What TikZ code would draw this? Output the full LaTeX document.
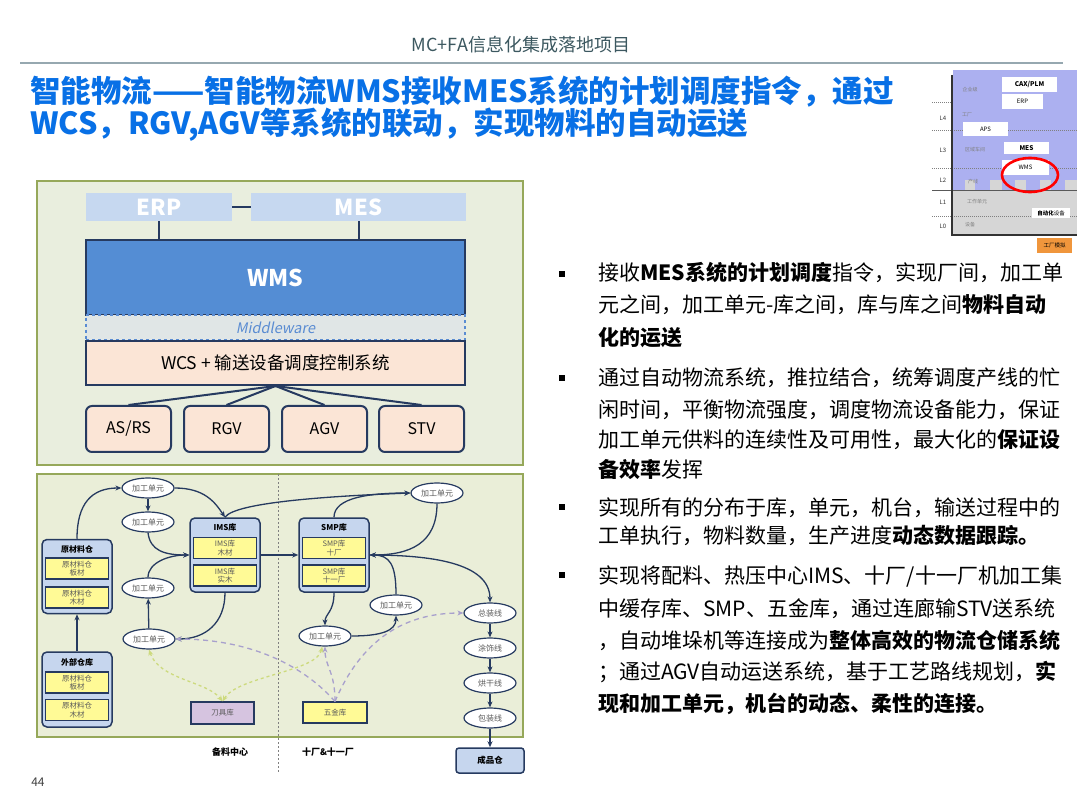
\documentclass[tikz,border=0pt]{standalone}
\usepackage{fontspec}
\setmainfont{Noto Sans CJK SC}
\newfontfamily\mwfont{Noto Sans CJK SC}[FakeSlant=0.2]
\usetikzlibrary{shapes.geometric,arrows.meta}
\definecolor{navy}{RGB}{38,58,96}
\definecolor{frameg}{RGB}{150,168,90}
\definecolor{bgg}{RGB}{233,238,222}
\definecolor{bgg2}{RGB}{234,238,216}
\definecolor{erpb}{RGB}{198,216,240}
\definecolor{wmsb}{RGB}{84,141,212}
\definecolor{peach}{RGB}{251,229,214}
\definecolor{mwfill}{RGB}{224,230,230}
\definecolor{mwblue}{RGB}{90,140,210}
\definecolor{contb}{RGB}{198,214,238}
\definecolor{yel}{RGB}{255,250,150}
\definecolor{purp}{RGB}{214,196,224}
\definecolor{dpurple}{RGB}{168,160,205}
\definecolor{dgreen}{RGB}{205,218,125}
\definecolor{txtgray}{RGB}{90,90,90}
\definecolor{titleblue}{RGB}{8,112,230}
\definecolor{headc}{RGB}{60,88,96}
\definecolor{rulec}{RGB}{150,168,176}
\definecolor{lav}{RGB}{172,176,240}
\definecolor{thgray}{RGB}{214,214,214}
\definecolor{orng}{RGB}{240,150,60}
\begin{document}
\begin{tikzpicture}[x=1pt,y=-1pt,
  frame/.style={draw=frameg, line width=2pt},
  link/.style={draw=navy, line width=2pt},
  topbox/.style={fill=erpb, inner sep=0pt, text=white, font=\fontsize{22}{24}\selectfont\bfseries},
  devbox/.style={draw=navy, line width=2pt, fill=peach, rounded corners=6pt, minimum width=85pt, minimum height=46pt, inner sep=0pt, font=\fontsize{16}{18}\selectfont},
  ell/.style={ellipse, draw=navy, line width=1.2pt, fill=white, minimum width=52pt, minimum height=20pt, inner sep=0pt, font=\fontsize{8}{9}\selectfont, text=txtgray},
  cont/.style={draw=navy, line width=1.5pt, fill=contb, rounded corners=5pt, minimum width=70pt, minimum height=74pt, inner sep=0pt},
  inbox/.style={draw=navy, line width=1.2pt, fill=yel, minimum width=63pt, minimum height=21pt, inner sep=0pt, align=center, font=\fontsize{7.5}{8.5}\selectfont, text=txtgray},
  ctitle/.style={font=\fontsize{8}{9}\selectfont\bfseries, inner sep=0pt},
  arr/.style={draw=navy, line width=1.3pt, -{Stealth[length=6pt,width=5pt]}},
  darr/.style={draw=dpurple, line width=1.3pt, dash pattern=on 5pt off 4pt, -{Stealth[length=6pt,width=5pt]}},
  garr/.style={draw=dgreen, line width=1.3pt, dash pattern=on 3pt off 3pt, {Stealth[length=6pt,width=5pt]}-{Stealth[length=6pt,width=5pt]}},
  rt/.style={anchor=base west, inner sep=0pt, font=\fontsize{21}{25}\selectfont},
  bul/.style={fill=black, minimum size=6pt, inner sep=0pt},
  thbox/.style={fill=white, inner sep=0pt, font=\fontsize{6}{7}\selectfont},
  thlab/.style={inner sep=0pt, font=\fontsize{5}{6}\selectfont, text=gray},
  lv/.style={inner sep=0pt, font=\fontsize{6}{7}\selectfont, text=black!80}
]
\useasboundingbox (0,0) rectangle (1080,810);
\fill[white] (0,0) rectangle (1080,810);

% header
\node[font=\fontsize{18}{20}\selectfont, text=headc] (head) at (521,45) {MC+FA信息化集成落地项目};
\draw[rulec, line width=2pt] (20,63) -- (1063,63);
\node[anchor=base west, inner sep=0pt, font=\fontsize{30.5}{33}\selectfont\bfseries, text=titleblue] (t1) at (30,103) {智能物流——智能物流WMS接收MES系统的计划调度指令，通过};
\node[anchor=base west, inner sep=0pt, font=\fontsize{30.5}{33}\selectfont\bfseries, text=titleblue] (t2) at (30,135) {WCS，RGV,AGV等系统的联动，实现物料的自动运送};

% ===== upper diagram =====
\filldraw[frame, fill=bgg] (37,181) rectangle (523,465);
\node[topbox, minimum width=146pt, minimum height=28pt] (erp) at (159,207) {ERP};
\node[topbox, minimum width=215pt, minimum height=28pt] (mes) at (358.5,207) {MES};
\draw[link] (erp.east) -- (mes.west);
\node[draw=navy, line width=2pt, fill=wmsb, minimum width=379pt, minimum height=75pt, inner sep=0pt, text=white, font=\fontsize{23}{25}\selectfont\bfseries] (wms) at (275.5,277.5) {WMS};
\draw[link] (erp.south) -- (erp.south |- wms.north);
\draw[link] (mes.south) -- (mes.south |- wms.north);
\node[draw=mwblue, dashed, line width=1.5pt, fill=mwfill, minimum width=379pt, minimum height=25pt, inner sep=0pt, text=mwblue, font=\fontsize{14.5}{16}\mwfont] (mw) at (275.5,327.5) {Middleware};
\node[draw=navy, line width=2pt, fill=peach, minimum width=379pt, minimum height=44pt, inner sep=0pt, font=\fontsize{17.5}{20}\selectfont] (wcs) at (275.5,363) {WCS + 输送设备调度控制系统};
\node[devbox] (asrs) at (128.5,429) {AS/RS};
\node[devbox] (rgv) at (226.5,429) {RGV};
\node[devbox] (agv) at (324.5,429) {AGV};
\node[devbox] (stv) at (421.5,429) {STV};
\draw[link] (wcs.south) -- (asrs.north);
\draw[link] (wcs.south) -- (rgv.north);
\draw[link] (wcs.south) -- (agv.north);
\draw[link] (wcs.south) -- (stv.north);

% ===== lower diagram =====
\filldraw[frame, fill=bgg2] (37,474) rectangle (523,737);
\draw[gray, line width=1pt, dash pattern=on 2pt off 2pt] (278,474) -- (278,772);

% containers
\node[cont] (ycl) at (77,576.5) {};
\node[ctitle] (yclt) at (77,549) {原材料仓};
\node[inbox] (ycl1) at (77,568.5) {原材料仓\\板材};
\node[inbox] (ycl2) at (77,597.5) {原材料仓\\木材};

\node[cont] (ims) at (225,555) {};
\node[ctitle] (imst) at (225,527) {IMS库};
\node[inbox] (ims1) at (225,548) {IMS库\\木材};
\node[inbox] (ims2) at (225,575.5) {IMS库\\实木};

\node[cont] (smp) at (334,555) {};
\node[ctitle] (smpt) at (334,527) {SMP库};
\node[inbox] (smp1) at (334,548) {SMP库\\十厂};
\node[inbox] (smp2) at (334,575.5) {SMP库\\十一厂};

\node[cont, minimum height=75pt] (wb) at (77,689.5) {};
\node[ctitle] (wbt) at (77,662) {外部仓库};
\node[inbox] (wb1) at (77,682.5) {原材料仓\\板材};
\node[inbox] (wb2) at (77,710) {原材料仓\\木材};

\node[inbox, fill=purp, minimum height=22pt] (dj) at (222.5,713) {刀具库};
\node[inbox, minimum width=64pt] (wj) at (335,712.5) {五金库};

% ellipses
\node[ell] (e1) at (148,488) {加工单元};
\node[ell] (e2) at (148,522) {加工单元};
\node[ell] (e3) at (148,588) {加工单元};
\node[ell] (e4) at (149,639) {加工单元};
\node[ell] (e5) at (437,493) {加工单元};
\node[ell] (e6) at (396,605) {加工单元};
\node[ell] (e7) at (325,636) {加工单元};
\node[ell] (zz) at (490,613) {总装线};
\node[ell] (ts) at (490,648) {涂饰线};
\node[ell] (hg) at (490,683) {烘干线};
\node[ell] (bz) at (490,718) {包装线};
\node[draw=navy, line width=1.5pt, fill=contb, rounded corners=3pt, minimum width=68pt, minimum height=25pt, inner sep=0pt, font=\fontsize{8.5}{9}\selectfont\bfseries] (cp) at (490,760.5) {成品仓};

\node[inner sep=0pt, font=\fontsize{9}{10}\selectfont\bfseries] (blzx) at (230,752) {备料中心};
\node[inner sep=0pt, font=\fontsize{9}{10}\selectfont\bfseries] (sc) at (328,752) {十厂\&十一厂};

% solid arrows
\draw[arr] (ycl.north) .. controls +(0,-35) and +(-30,0) .. (e1.west);
\draw[arr] (wb.north) -- (ycl.south);
\draw[arr] (e1) -- (e2);
\draw[arr] (e1.east) .. controls +(30,0) and +(-10,-15) .. (ims.north);
\draw[arr] (e2.south) .. controls +(2,18) and +(-25,0) .. (ims.west);
\draw[arr] (e3.north) .. controls +(0,-15) and +(-20,0) .. (ims.west);
\draw[arr] (e4) -- (e3);
\draw[arr] (ims.south) .. controls +(0,30) and +(30,0) .. (e4.east);
\draw[arr] (ims.north) .. controls +(10,-15) and +(-80,3) .. (e5.west);
\draw[arr] (ims.east) -- (smp.west);
\draw[arr] (smp.north) .. controls +(0,-20) and +(-40,0) .. (e5.west);
\draw[arr] (e5.south) .. controls +(0,40) and +(40,0) .. (smp.east);
\draw[arr] (smp.east) .. controls +(60,0) and +(0,-40) .. (zz.north);
\draw[arr] (e6.north) .. controls +(0,-30) and +(20,0) .. (smp.east);
\draw[arr] (smp.south) .. controls +(0,20) and +(0,-12) .. (e7.north);
\draw[arr] (e7.east) .. controls +(30,0) and +(0,15) .. (e6.south);
\draw[arr] (zz) -- (ts);
\draw[arr] (ts) -- (hg);
\draw[arr] (hg) -- (bz);
\draw[arr] (bz) -- (cp);

% dashed arrows
\draw[darr] (wj.north) .. controls +(-40,-45) and +(60,0) .. (e4.east);
\draw[darr] (wj.north) .. controls +(0,-30) and +(0,20) .. (e7.south);
\draw[darr] (wj.north) .. controls +(30,-70) and +(-50,0) .. (zz.west);
\draw[garr] (e4.south) .. controls +(10,30) and +(-15,-20) .. (dj.north);
\draw[garr] (dj.north) .. controls +(15,-25) and +(-5,25) .. (e7.-105);

% ===== right text =====
\node[bul] (b1) at (562,274) {};
\node[bul] (b2) at (562,378) {};
\node[bul] (b3) at (562,507) {};
\node[bul] (b4) at (562,575) {};
\node[rt] (l1) at (598,281) {接收\textbf{MES系统的计划调度}指令，实现厂间，加工单};
\node[rt] (l2) at (598,313) {元之间，加工单元-库之间，库与库之间\textbf{物料自动}};
\node[rt] (l3) at (598,346) {\textbf{化的运送}};
\node[rt] (l4) at (598,386) {通过自动物流系统，推拉结合，统筹调度产线的忙};
\node[rt] (l5) at (598,418) {闲时间，平衡物流强度，调度物流设备能力，保证};
\node[rt] (l6) at (598,448) {加工单元供料的连续性及可用性，最大化的\textbf{保证设}};
\node[rt] (l7) at (598,478) {\textbf{备效率}发挥};
\node[rt] (l8) at (598,515) {实现所有的分布于库，单元，机台，输送过程中的};
\node[rt] (l9) at (598,543) {工单执行，物料数量，生产进度\textbf{动态数据跟踪。}};
\node[rt] (l10) at (598,583) {实现将配料、热压中心IMS、十厂/十一厂机加工集};
\node[rt] (l11) at (598,616) {中缓存库、SMP、五金库，通过连廊输STV送系统};
\node[rt] (l12) at (598,648) {，自动堆垛机等连接成为\textbf{整体高效的物流仓储系统}};
\node[rt] (l13) at (598,679) {；通过AGV自动运送系统，基于工艺路线规划，\textbf{实}};
\node[rt] (l14) at (598,711) {\textbf{现和加工单元，机台的动态、柔性的连接。}};

% ===== thumbnail =====
\fill[lav] (953,70) rectangle (1077,191);
\fill[thgray] (953,191) rectangle (1077,235);
\fill[thgray] (965,180) rectangle (975,191);
\fill[thgray] (990,180) rectangle (1002,191);
\fill[thgray] (1015,180) rectangle (1026,191);
\fill[thgray] (1040,180) rectangle (1051,191);
\fill[thgray] (1065,180) rectangle (1077,191);
\draw[gray, line width=0.8pt, dash pattern=on 1pt off 1pt] (932,102) -- (953,102);
\draw[gray, line width=0.8pt, dash pattern=on 1pt off 1pt] (932,130) -- (1077,130);
\draw[gray, line width=0.8pt, dash pattern=on 1pt off 1pt] (932,168) -- (1077,168);
\draw[gray!70!black, line width=1pt] (932,191) -- (1077,191);
\draw[gray, line width=0.8pt, dash pattern=on 1pt off 1pt] (932,216) -- (1077,216);
\draw[black!80, line width=1.2pt] (952,75) -- (952,235) -- (1077,235);
\node[thbox, minimum width=55pt, minimum height=15pt, font=\fontsize{6.5}{7}\selectfont\bfseries] (cax) at (1029.5,84.5) {CAX/PLM};
\node[thbox, minimum width=41pt, minimum height=15pt] (terp) at (1022.5,101.5) {ERP};
\node[thbox, minimum width=45pt, minimum height=14pt] (aps) at (985.5,129) {APS};
\node[thbox, minimum width=45pt, minimum height=12pt, font=\fontsize{6.5}{7}\selectfont\bfseries] (tmes) at (1026.5,148) {MES};
\node[thbox, minimum width=47pt, minimum height=15pt] (twms) at (1025.5,167.5) {WMS};
\node[thbox, minimum width=38pt, minimum height=10pt, font=\fontsize{5.5}{6}\selectfont] (auto) at (1051,213) {\textbf{自动化}设备};
\node[thlab] (q1) at (970,90) {企业级};
\node[thlab] (q2) at (967,115) {工厂};
\node[thlab] (q3) at (975,150) {区域车间};
\node[thlab] (q4) at (973,182) {产线};
\node[thlab] (q5) at (977,202) {工作单元};
\node[thlab] (q6) at (970,225) {设备};
\node[lv] (L4) at (943,118) {L4};
\node[lv] (L3) at (943,150) {L3};
\node[lv] (L2) at (943,180) {L2};
\node[lv] (L1) at (943,202) {L1};
\node[lv] (L0) at (943,226) {L0};
\draw[red, line width=2.6pt] (1030,175) ellipse [x radius=28pt, y radius=17pt];
\node[fill=orng, minimum width=35pt, minimum height=15pt, inner sep=0pt, font=\fontsize{5.5}{6}\selectfont] (gcmn) at (1054.5,245.5) {工厂模拟};

\node[font=\fontsize{12}{13}\selectfont, text=black!75] (pg) at (38,782) {44};
\end{tikzpicture}
\end{document}
